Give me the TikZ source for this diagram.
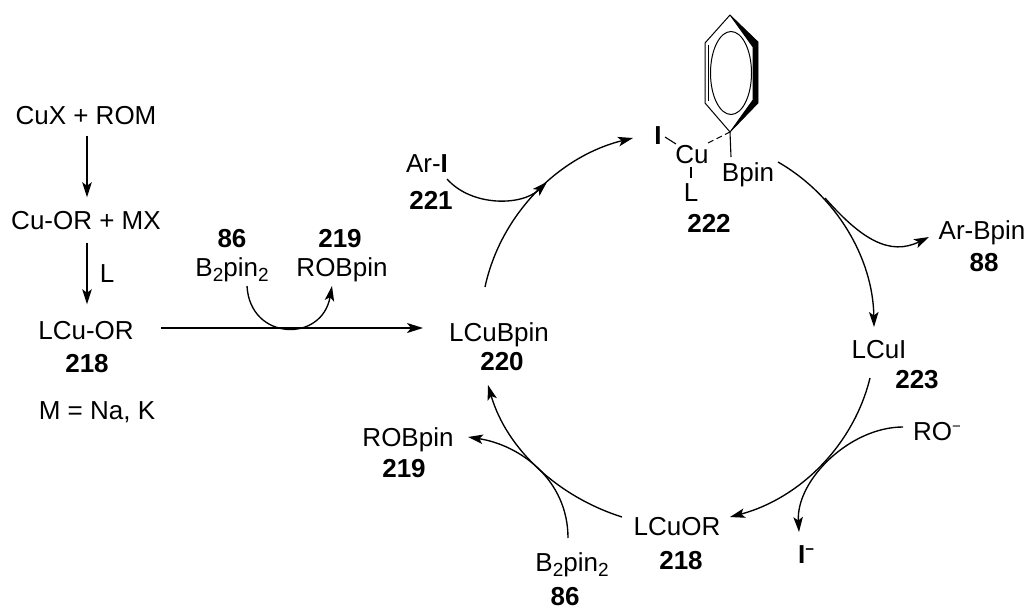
\documentclass[tikz,border=0pt]{standalone}
\usepackage{fontspec}
\setmainfont{Liberation Sans}
\usetikzlibrary{arrows.meta}
\newcommand{\subtwo}{\raisebox{-5pt}{\fontsize{19}{19}\selectfont 2}}
\newcommand{\supminus}{\raisebox{9pt}{\fontsize{15}{15}\selectfont −}}
\tikzset{
  lab/.style={inner sep=0pt,text height=19pt,text depth=0pt,font=\fontsize{26}{30}\selectfont},
  num/.style={lab,font=\fontsize{26}{30}\selectfont\bfseries},
  tipped/.style={line width=1.35pt,-{Stealth[length=15pt,width=9.5pt,inset=3.5pt]}},
  bond/.style={line width=1.1pt},
}
\begin{document}
\begin{tikzpicture}[x=1pt,y=-1pt]
\useasboundingbox (0,0) rectangle (1026,608);
\fill[white] (0,0) rectangle (1026,608);
% left column
\node[lab] (cux) at (86,115) {CuX + ROM};
\node[lab] (cuor) at (86,220) {Cu-OR + MX};
\node[lab] (lcuorL) at (86,330) {LCu-OR};
\node[num] (n218L) at (87,363) {218};
\node[lab] (mnak) at (97,410) {M = Na, K};
\node[lab] (ligand) at (107,273) {L};
\draw[tipped,shorten <=11pt,shorten >=13pt] (cux.south -| 87,0) -- (cuor.north -| 87,0);
\draw[tipped,shorten <=13pt,shorten >=16pt] (cuor.south -| 87,0) -- (lcuorL.north -| 87,0);
% upper mid
\node[num] (n86T) at (232,238) {86};
\node[lab] (b2T) at (232,267) {B\subtwo pin\subtwo};
\node[num] (n219T) at (340,238) {219};
\node[lab] (robT) at (342,267) {ROBpin};
\node[lab] (lcubpin) at (499,332) {LCuBpin};
\node[num] (n220) at (502,361) {220};
\coordinate (hstart) at (161,328);
\coordinate (hend) at (423,328);
\draw[line width=1.7pt,-{Stealth[length=16pt,width=10pt,inset=4pt]}] (hstart) -- (hend);
\coordinate (b2Tout) at (247,286);
\coordinate (robTin) at (332,286);
\draw[tipped] (b2Tout) .. controls (250,341) and (322,343) .. (robTin);
% complex 222
\coordinate (bzT) at (730,15);
\coordinate (bzUR) at (758,42);
\coordinate (bzLR) at (758,103);
\coordinate (bzB) at (730,132);
\coordinate (bzLL) at (705,103);
\coordinate (bzUL) at (705,43);
\draw[line width=1pt,line join=round] (bzB) -- (bzLL) -- (bzUL) -- (bzT);
\draw[line width=1pt] (708,45) -- (708,101);
\fill[draw=black,line width=.8pt,line join=round] (bzT) -- (bzUR) -- (bzLR) -- (bzB) -- (753,100) -- (753,47) -- cycle;
\draw[line width=1pt] (731,73) ellipse [x radius=20.5,y radius=41.5];
\node[num] (iod) at (658,135) {I};
\node[lab] (cu) at (692,154) {Cu};
\node[lab] (bpin) at (748,172) {Bpin};
\node[lab] (lig) at (691,192) {L};
\node[num] (n222) at (709,223) {222};
\coordinate (iodb) at (665,137);
\coordinate (cub) at (676,144);
\coordinate (cud) at (708,143);
\coordinate (cul) at (691,167);
\coordinate (ligb) at (691,178);
\coordinate (bpb) at (731,157);
\draw[bond] (iodb) -- (cub);
\draw[bond,dash pattern=on 6pt off 3.5pt] (cud) -- (bzB);
\draw[bond] (cul) -- (ligb);
\draw[bond] (bzB) -- (bpb);
% cycle
\coordinate (c1s) at (485,287);
\coordinate (c1e) at (633,138);
\coordinate (c2s) at (778,162);
\coordinate (c2e) at (874,327);
\coordinate (c3s) at (870,378);
\coordinate (c3e) at (730,517);
\coordinate (c4s) at (622,517);
\coordinate (c4e) at (488,385);
\draw[tipped] (c1s) .. controls (501,213) and (560,156) .. (c1e);
\draw[tipped] (c2s) .. controls (837,196) and (873,259) .. (c2e);
\draw[tipped] (c3s) .. controls (853,447) and (798,499) .. (c3e);
\draw[tipped] (c4s) .. controls (559,497) and (507,450) .. (c4e);
% side labels
\node[lab] (ari) at (427,163) {Ar-\textbf{I}};
\node[num] (n221) at (431,200) {221};
\coordinate (aris) at (447,179);
\coordinate (arie) at (547,182);
\draw[tipped] (aris) .. controls (472,207) and (522,206) .. (arie);
\node[lab] (arb) at (982,230) {Ar-Bpin};
\node[num] (n88) at (984,262) {88};
\coordinate (arbs) at (825,198);
\coordinate (arbe) at (929,237);
\draw[tipped] (arbs) .. controls (862,240) and (890,256) .. (arbe);
\node[lab] (lcui) at (879,349) {LCuI};
\node[num] (n223) at (917,379) {223};
\node[lab,anchor=west] (ro) at (913,431) {RO\supminus};
\node[num,anchor=west] (iminus) at (798,554) {I\supminus};
\coordinate (ros) at (903,427);
\coordinate (roe) at (799,532);
\draw[tipped] (ros) .. controls (850,427) and (796,480) .. (roe);
\node[lab] (lcuor) at (677,526) {LCuOR};
\node[num] (n218) at (681,560) {218};
\node[lab] (b2B) at (572,562) {B\subtwo pin\subtwo};
\node[num] (n86B) at (565,596) {86};
\node[lab] (robB) at (408,437) {ROBpin};
\node[num] (n219B) at (404,468) {219};
\coordinate (b2s) at (568,538);
\coordinate (robe) at (468,437);
\draw[tipped] (b2s) .. controls (568,480) and (520,445) .. (robe);
\end{tikzpicture}
\end{document}
